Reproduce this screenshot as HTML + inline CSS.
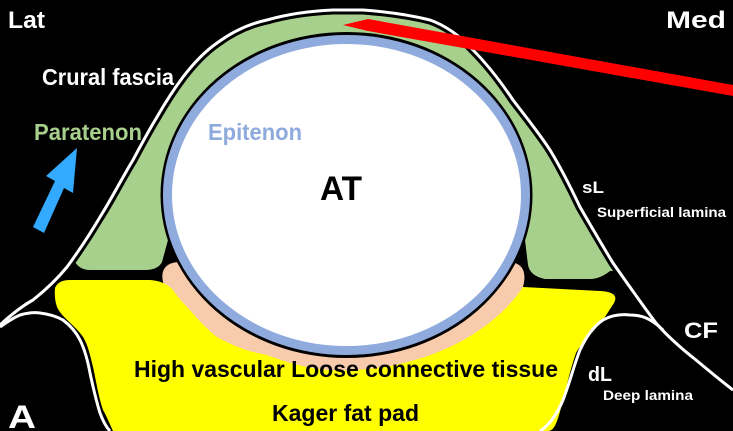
<!DOCTYPE html>
<html><head><style>
html,body{margin:0;padding:0;background:#000;}
svg{display:block;}
text{font-family:"Liberation Sans",sans-serif;font-weight:bold;}
</style></head><body>
<svg width="733" height="431" viewBox="0 0 733 431" xmlns="http://www.w3.org/2000/svg">
<defs>
<clipPath id="gc">
<path d="M0,0 L733,0 L733,271 L610,271 Q600,279 590,279 L545,279 Q530,276 528,265 L525,240 L168,240 L162,262 Q158,270 145,270 L90,270 Q80,270 75,262 L0,262 Z"/>
</clipPath>
<path id="outer" d="M0,325 C12,314 22,306 33,300 C48,288 58,278 67,267 C78,252 90,234 100,217 C112,198 122,178 133,160 C141,145 149,130 157,117 C165,103 174,89 183,77 C193,64 204,52 217,43 C232,32 248,24 267,20 C288,14 310,11 333,10 C345,10 355,10 363,10 C390,12 410,15 430,20 C447,26 461,37 473,50 C488,65 501,82 513,100 C526,117 539,133 550,150 C561,168 571,188 580,207 C591,226 602,245 613,263 C627,283 641,303 656,323 C669,338 682,349 696,360 C708,370 720,380 733,390"/>
</defs>
<rect width="733" height="431" fill="#000"/>
<!-- green paratenon (bounded by outer line) -->
<path clip-path="url(#gc)" d="M0,325 C12,314 22,306 33,300 C48,288 58,278 67,267 C78,252 90,234 100,217 C112,198 122,178 133,160 C141,145 149,130 157,117 C165,103 174,89 183,77 C193,64 204,52 217,43 C232,32 248,24 267,20 C288,14 310,11 333,10 C345,10 355,10 363,10 C390,12 410,15 430,20 C447,26 461,37 473,50 C488,65 501,82 513,100 C526,117 539,133 550,150 C561,168 571,188 580,207 C591,226 602,245 613,263 C627,283 641,303 656,323 L0,323 Z" fill="#a8d08d"/>
<!-- peach -->
<path d="M163,282 C160,268 168,262 180,262 L500,262 C520,260 528,268 523,287 C505,335 445,378 345,382 C255,380 185,340 163,282 Z" fill="#f8cbad"/>
<!-- yellow -->
<path d="M55,288 Q58,280 70,280 L150,280 Q165,281 173,290 C180,300 185,305 190,310 C200,322 208,330 217,337 C235,347 250,352 267,355 C300,368 330,372 350,370 C430,368 495,330 523,287 L600,291 Q620,292 614,303 L603,320 C590,335 580,345 576,353 C570,370 567,385 563,400 C558,420 555,431 548,431 L113,431 C108,420 106,415 103,410 C98,395 96,380 93,367 C90,355 88,345 83,337 C75,325 62,318 57,307 Q54,298 55,288 Z" fill="#ffff00"/>
<!-- gap + tendon ring -->
<ellipse cx="346.5" cy="195" rx="186" ry="163" fill="#000"/>
<ellipse cx="346.5" cy="195" rx="179" ry="155.5" fill="#fff" stroke="#8faadc" stroke-width="9"/>
<!-- white lines with black gap -->
<g fill="none">
<use href="#outer" stroke="#000" stroke-width="9"/>
<use href="#outer" stroke="#fff" stroke-width="3"/>
<path d="M0,327 C7,322 13,318 20,315 C27,313 33,312 40,313 C48,314 56,316 63,320 C71,326 76,332 80,340 C85,350 88,362 90,373 C93,387 96,400 100,413 C103,421 106,427 110,431" stroke="#fff" stroke-width="3"/>
<path d="M540,431 C550,425 558,412 563,400 C570,382 574,365 580,350 C586,337 594,326 603,320 C612,315 621,314 630,315 C638,315 645,317 650,320 C655,323 659,326 663,330" stroke="#fff" stroke-width="3"/>
</g>
<!-- red arrow -->
<polygon points="343,25 368,19 733,85 733,96 368,31" fill="#ff0000"/>
<!-- blue arrow -->
<polygon points="33,227 44,233 64,188 73,193 77,148 46,176 55,181" fill="#33aaff"/>
<!-- text -->
<text x="8" y="28" fill="#fff" font-size="24" textLength="37" lengthAdjust="spacingAndGlyphs">Lat</text>
<text x="666" y="28" fill="#fff" font-size="24" textLength="60" lengthAdjust="spacingAndGlyphs">Med</text>
<text x="42" y="85" fill="#fff" font-size="23" textLength="132" lengthAdjust="spacingAndGlyphs">Crural fascia</text>
<text x="34" y="140" fill="#a8d08d" font-size="23" textLength="108" lengthAdjust="spacingAndGlyphs">Paratenon</text>
<text x="208" y="140" fill="#8faadc" font-size="23" textLength="94" lengthAdjust="spacingAndGlyphs">Epitenon</text>
<text x="320" y="200" fill="#000" font-size="34" textLength="42" lengthAdjust="spacingAndGlyphs">AT</text>
<text x="582" y="193" fill="#fff" font-size="17" textLength="22" lengthAdjust="spacingAndGlyphs">sL</text>
<text x="597" y="217" fill="#fff" font-size="14" textLength="129" lengthAdjust="spacingAndGlyphs">Superficial lamina</text>
<text x="684" y="338" fill="#fff" font-size="22" textLength="34" lengthAdjust="spacingAndGlyphs">CF</text>
<text x="588" y="381" fill="#fff" font-size="20" textLength="24" lengthAdjust="spacingAndGlyphs">dL</text>
<text x="603" y="400" fill="#fff" font-size="14" textLength="90" lengthAdjust="spacingAndGlyphs">Deep lamina</text>
<text x="134" y="377" fill="#000" font-size="23" textLength="424" lengthAdjust="spacingAndGlyphs">High vascular Loose connective tissue</text>
<text x="272" y="421" fill="#000" font-size="23" textLength="147" lengthAdjust="spacingAndGlyphs">Kager fat pad</text>
<text x="8" y="428" fill="#fff" font-size="32" textLength="28" lengthAdjust="spacingAndGlyphs">A</text>
</svg>
</body></html>
